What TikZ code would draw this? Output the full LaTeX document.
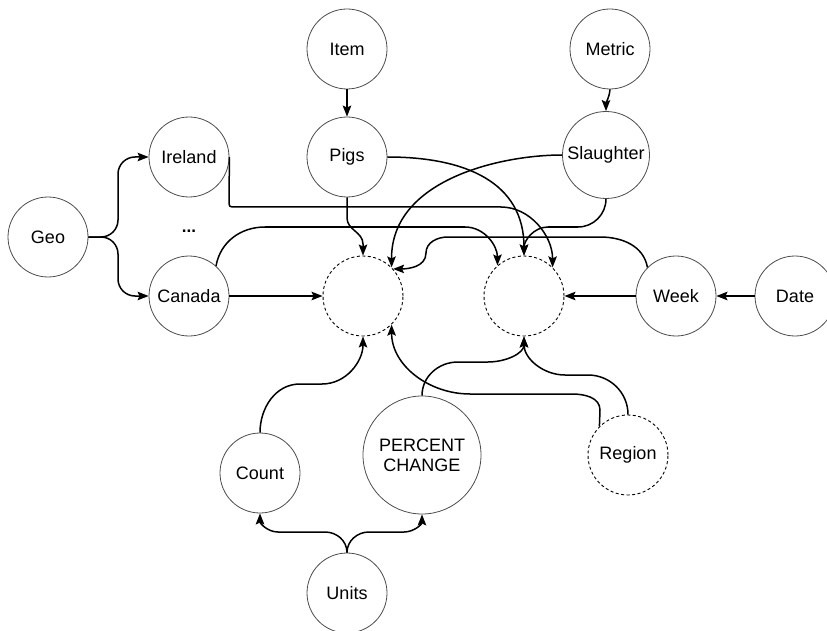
\documentclass[tikz,border=0pt]{standalone}
\usepackage{fontspec}
\setmainfont{Liberation Sans}
\usetikzlibrary{arrows.meta}
\begin{document}
\begin{tikzpicture}[x=1pt,y=-1pt,
  every node/.style={font=\fontsize{18}{20}\selectfont},
  entity/.style={circle,draw=black!70,line width=0.8pt,minimum size=80pt,inner sep=0pt,align=center},
  hidden/.style={circle,draw=black,dashed,dash pattern=on 3pt off 2.5pt,line width=0.9pt,minimum size=80pt,inner sep=0pt,align=center},
  link/.style={draw=black,line width=1.5pt,-{Stealth[length=11pt,width=8.5pt,inset=2pt]}},
  plain/.style={draw=black,line width=1.5pt}]
\useasboundingbox (0,0) rectangle (827,631);

% nodes
\node[entity] (geo) at (48,237) {Geo};
\node[entity] (ireland) at (189,157) {Ireland};
\node[entity] (canada) at (189,296) {Canada};
\node[font=\fontsize{17}{20}\selectfont\bfseries] (dots) at (189,231) {...};
\node[entity] (item) at (347,49) {Item};
\node[entity] (pigs) at (347,157) {Pigs};
\node[entity] (metric) at (610,49) {Metric};
\node[entity,minimum size=87pt] (slaughter) at (606,155) {Slaughter};
\node[hidden] (d1) at (363,296) {};
\node[hidden] (d2) at (524,296) {};
\node[entity] (week) at (676,296) {Week};
\node[entity] (date) at (795,296) {Date};
\node[entity] (count) at (260,473) {Count};
\node[entity,minimum size=118pt] (pc) at (422,455) {PERCENT\\CHANGE};
\node[hidden] (region) at (628,455) {Region};
\node[entity] (units) at (347,593) {Units};

% Geo branches
\draw[link,rounded corners=17pt] (geo.east) -- (118,237) |- (ireland.west);
\draw[link,rounded corners=17pt] (geo.east) -- (118,237) |- (canada.west);

% top row into the hidden nodes
\draw[link] (item.south) -- (pigs.north);
\draw[link] (metric.south) to[out=-95,in=90] (slaughter.north);
\draw[link] (pigs.south) -- (347,218) to[out=-90,in=90] (363,244) -- (d1.north);
\draw[link] (pigs.east) .. controls (465,157) and (524,182) .. (d2.north);
\draw[link] (slaughter.west) .. controls (500,155) and (391,180) .. (d1.45);
\draw[link] (slaughter.south) to[out=-90,in=0] (578,227) -- (548,227) to[out=180,in=90] (d2.north);
\draw[link,rounded corners=3pt] (ireland.east) -- (229,207) -- (498,207) to[out=0,in=90] (d2.45);

% Canada
\draw[link] (canada.east) -- (d1.west);
\draw[link] (canada.48) to[out=80,in=180] (265,227) -- (465,227) to[out=0,in=90] (d2.131);

% Week and Date
\draw[link] (date.west) -- (week.east);
\draw[link] (week.west) -- (d2.east);
\draw[link] (week.135) to[out=100,in=0] (600,237) -- (448,237) to[out=180,in=90] (426,253) to[out=-90,in=0] (d1.42);

% bottom row into the hidden nodes
\draw[link] (count.north) to[out=90,in=180] (300,384) -- (322,384) to[out=0,in=-90] (d1.south);
\draw[link] (region.135) -- (600,410) to[out=90,in=0] (572,394) -- (470,394) to[out=180,in=-90] (d1.-45);
\draw[link] (region.north) to[out=90,in=0] (588,375) -- (565,375) to[out=180,in=-90] (d2.south);
\draw[link] (pc.north) to[out=90,in=180] (458,362) -- (488,362) to[out=0,in=-90] (d2.south);

% Units
\draw[link] (units.north) to[out=90,in=0] (325,532) -- (278,532) to[out=180,in=-90] (count.south);
\draw[link] (units.north) to[out=90,in=180] (369,532) -- (404,532) to[out=0,in=-90] (pc.south);
\end{tikzpicture}
\end{document}
